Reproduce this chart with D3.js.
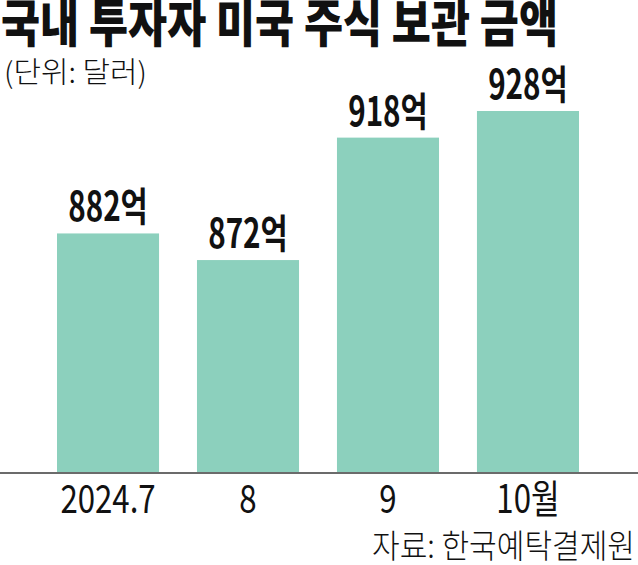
<!DOCTYPE html>
<html>
<head>
<meta charset="utf-8">
<script src="https://cdn.jsdelivr.net/npm/d3@7"></script>
<style>
  html, body { margin: 0; padding: 0; background: #fff; }
  svg { display: block; }
  text { font-family: "Noto Sans CJK KR", "Noto Sans", sans-serif; fill: #111; }
</style>
</head>
<body>
<svg></svg>
<script>
const months = ['2024.7', '8', '9', '10월']
const values = [882, 872, 918, 928]
const valueLabels = ['882억', '872억', '918억', '928억']
const title = '국내 투자자 미국 주식 보관 금액'
const unitText = '(단위: 달러)'
const sourceText = '자료: 한국예탁결제원'

const width = 638
const height = 565
const baseY = 473
const barColor = '#8cd0bd'

const svg = d3.select('svg')
              .attr('width', width)
              .attr('height', height)

const xScale = d3.scaleBand()
                 .domain(months)
                 .range([38, 598])
                 .paddingInner(0.271)
                 .paddingOuter(0.1357)

// axis is cut off, bars don't start at zero
const yScale = d3.scaleLinear()
                 .domain([792, 928])
                 .range([baseY, 111])

// squeeze text horizontally to look like the condensed gothic of the original
const squeeze = (sel, factor) => {
  sel.each(function() {
    const w = this.getComputedTextLength()
    d3.select(this)
      .attr('textLength', w * factor)
      .attr('lengthAdjust', 'spacingAndGlyphs')
  })
}

svg.append('g')
   .selectAll('rect')
   .data(values)
   .join('rect')
   .attr('x', (d, i) => xScale(months[i]))
   .attr('y', d => yScale(d))
   .attr('width', xScale.bandwidth())
   .attr('height', d => baseY - yScale(d))
   .attr('fill', barColor)

svg.append('g')
   .selectAll('text')
   .data(values)
   .join('text')
   .text((d, i) => valueLabels[i])
   .attr('x', (d, i) => xScale(months[i]) + xScale.bandwidth() / 2)
   .attr('y', d => yScale(d) - 12)
   .attr('text-anchor', 'middle')
   .style('font-size', '40px')
   .style('font-weight', 700)
   .call(squeeze, 0.74)

const xAxis = d3.axisBottom(xScale)
                .tickSize(0)
                .tickPadding(0)

const axisG = svg.append('g')
                 .attr('transform', `translate(0, ${baseY})`)
                 .call(xAxis)

axisG.select('.domain').remove()
axisG.append('line')
     .attr('x1', 0)
     .attr('x2', width)
     .attr('stroke', '#6b6b6b')
     .attr('stroke-width', 2)

axisG.selectAll('.tick text')
     .attr('y', 40)
     .attr('dy', null)
     .attr('fill', '#111')
     .style('font-family', '"Noto Sans CJK KR", sans-serif')
     .style('font-size', '39px')
     .style('font-weight', 400)
     .call(squeeze, 0.8)

svg.append('text')
   .text(title)
   .attr('x', 1)
   .attr('y', 42)
   .style('font-size', '51px')
   .style('font-weight', 900)
   .attr('textLength', 557)
   .attr('lengthAdjust', 'spacingAndGlyphs')

svg.append('text')
   .text(unitText)
   .attr('x', 4)
   .attr('y', 83)
   .style('font-size', '29px')
   .style('font-weight', 300)
   .attr('textLength', 143)
   .attr('lengthAdjust', 'spacingAndGlyphs')

svg.append('text')
   .text(sourceText)
   .attr('x', 635)
   .attr('y', 558)
   .attr('text-anchor', 'end')
   .style('font-size', '33px')
   .style('font-weight', 300)
   .attr('textLength', 263)
   .attr('lengthAdjust', 'spacingAndGlyphs')
</script>
</body>
</html>
